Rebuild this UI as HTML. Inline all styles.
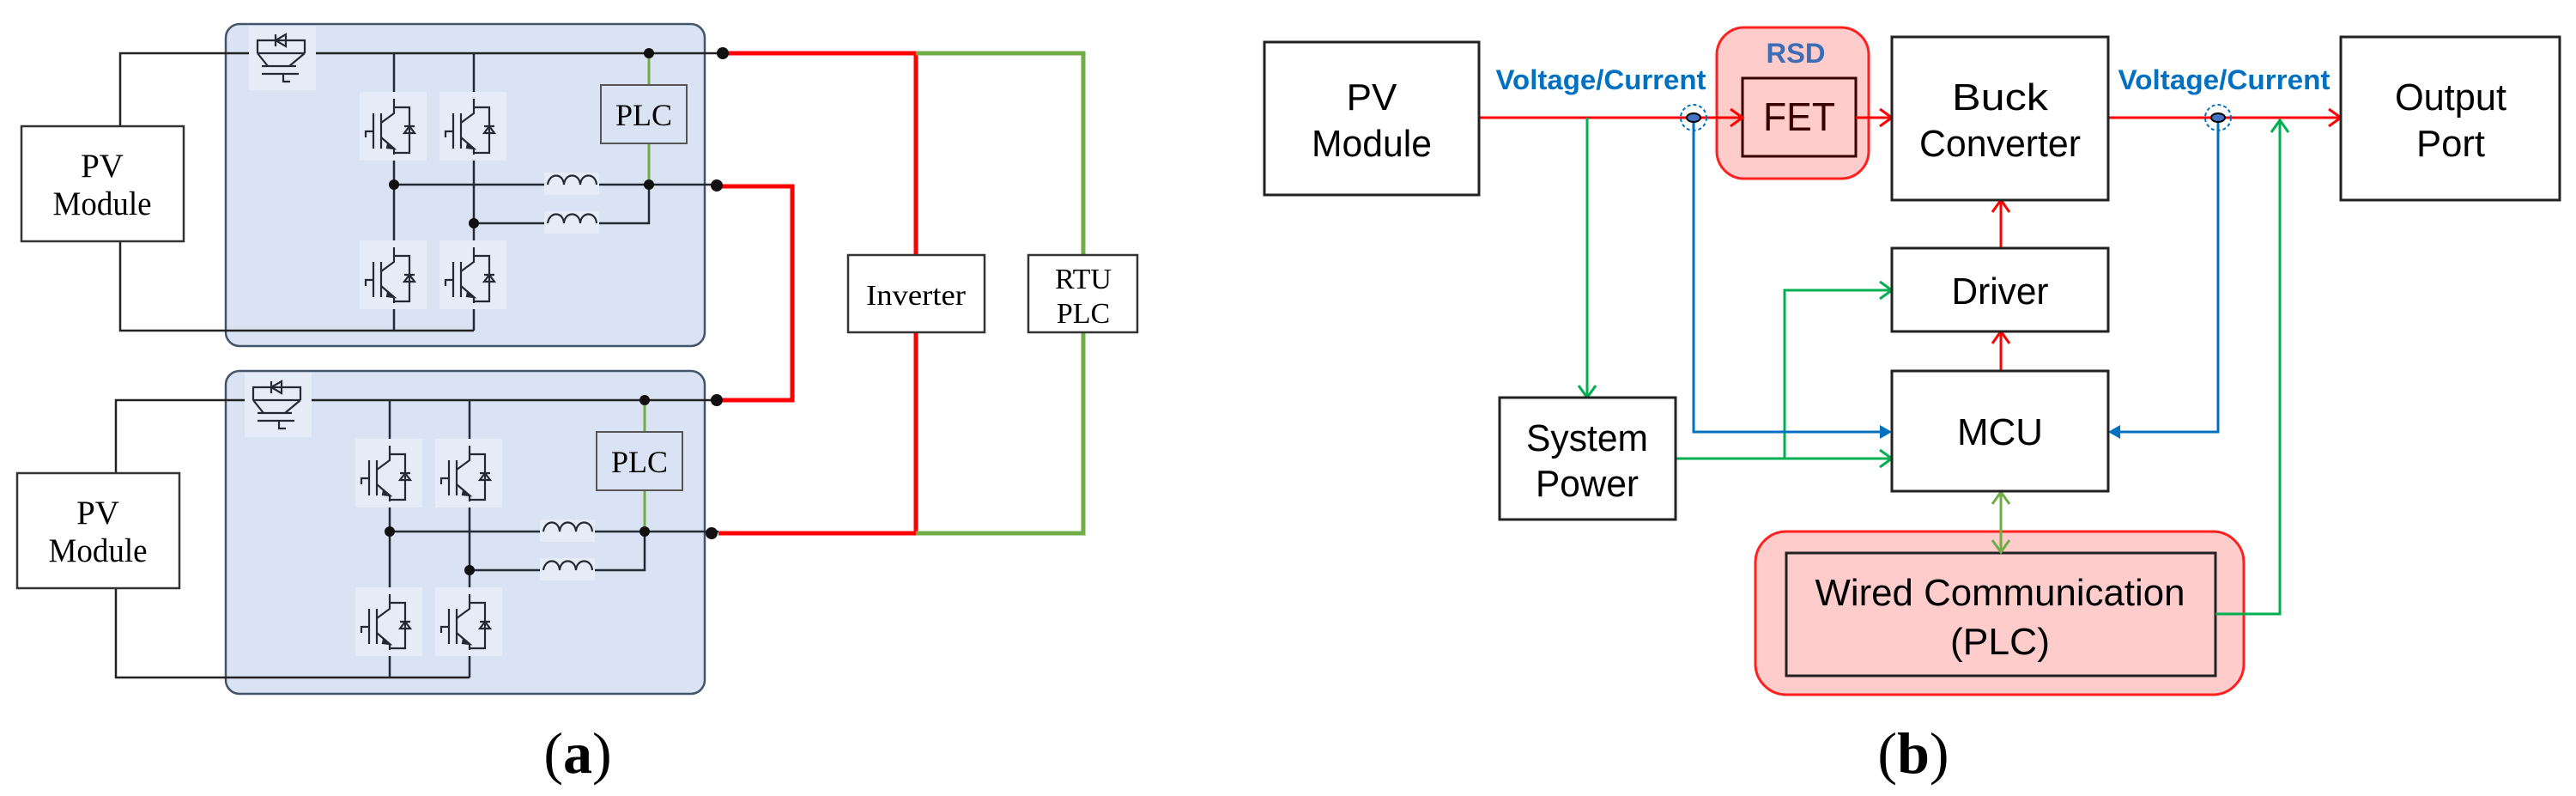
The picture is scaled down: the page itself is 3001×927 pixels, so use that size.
<!DOCTYPE html>
<html><head><meta charset="utf-8"><style>
html,body{margin:0;padding:0;background:#fff;}
svg{display:block;}
.serif{font-family:"Liberation Serif",serif;}
.sans{font-family:"Liberation Sans",sans-serif;}
</style></head><body>
<svg width="3001" height="927" viewBox="0 0 3001 927" xmlns="http://www.w3.org/2000/svg">
<defs>
<g id="sw" fill="none" stroke="#222a35" stroke-width="2.2">
  <rect x="-40" y="-8" width="78" height="80" fill="#e6ecf7" stroke="none"/>
  <path d="M0,0 V17 L-15,28"/>
  <path d="M-15,17 V58 M-24,17 V58 M-24,38 H-33 V45"/>
  <path d="M-15,45 L0,58 V65"/>
  <path d="M0,10 H18 V63 H0"/>
  <path d="M12,40 H24 L18,32 Z M12,32 H24"/>
  <path d="M-7,52 L0,58 L-8,57 Z" fill="#222a35"/>
</g>
<g id="ind" fill="none" stroke="#222a35" stroke-width="2.2">
  <rect x="-4" y="-14" width="64" height="26" fill="#e6ecf7" stroke="none"/>
  <path d="M0,0 C2,-14 18,-14 19,0 C20,-14 37,-14 38,0 C39,-14 56,-14 57,0"/>
</g>
<g id="inv">
  <g fill="none" stroke="#222" stroke-width="2.5">
    <!-- left pv wiring -->
    <path d="M140,147 V62 H300 V47 H355 V62 H842"/>
    <path d="M140,281 V385 H552"/>
    <rect x="25" y="147" width="189" height="134" fill="#fff" stroke="#333"/>
  </g>
  <rect x="290" y="30" width="78" height="75" fill="#e6ecf7"/>
  <g fill="none" stroke="#222a35" stroke-width="2.2">
    <path d="M300,47 V47 M300,62 V47 H355 V62"/>
    <path d="M321,40 V54 M333,40 V54 L321,47 Z"/>
    <path d="M300,62 L312,77 M305,77 H345 M305,86 H348 M330,86 V95 H338 M337,77 L355,62"/>
    <path d="M300,62 H355"/>
  </g>
  <!-- columns -->
  <g fill="none" stroke="#222a35" stroke-width="2.5">
    <path d="M459,62 V132 M459,173 V305 M459,346 V385"/>
    <path d="M552,62 V132 M552,173 V305 M552,346 V385"/>
    <path d="M459,215 H638 M695,215 H842"/>
    <path d="M552,260 H638 M695,260 H756 V215"/>
  </g>
  <use href="#sw" x="459" y="115"/>
  <use href="#sw" x="552" y="115"/>
  <use href="#sw" x="459" y="288"/>
  <use href="#sw" x="552" y="288"/>
  <use href="#ind" x="638" y="215"/>
  <use href="#ind" x="638" y="260"/>
  <path d="M756,62 V99 M756,167 V215" stroke="#70ad47" stroke-width="3"/>
  <rect x="700" y="99" width="100" height="68" fill="#dae3f3" stroke="#555" stroke-width="2"/>
  <text x="750" y="146" text-anchor="middle" class="serif" font-size="36">PLC</text>
  <g fill="#111">
    <circle cx="756" cy="62" r="6"/><circle cx="756" cy="215" r="6"/>
    <circle cx="459" cy="215" r="6"/><circle cx="552" cy="260" r="6"/>
  </g>
  <text x="119" y="206" text-anchor="middle" class="serif" font-size="39">PV</text>
  <text x="119" y="250" text-anchor="middle" class="serif" font-size="39" textLength="115" lengthAdjust="spacingAndGlyphs">Module</text>
</g>
</defs>

<!-- ===== Panel (a) ===== -->
<rect x="263" y="28" width="558" height="375" rx="16" fill="#dae3f3" stroke="#44546a" stroke-width="2.5"/>
<rect x="263" y="432" width="558" height="376" rx="16" fill="#dae3f3" stroke="#44546a" stroke-width="2.5"/>
<use href="#inv"/>
<use href="#inv" x="-5" y="404"/>

<g fill="none" stroke-width="5">
  <path d="M842,62 H1067 V297 M1067,387 V621 H837" stroke="#ff0000"/>
  <path d="M835,217 H923 V466 H837" stroke="#ff0000"/>
  <path d="M1067,62 H1262 V297 M1262,387 V621 H1067" stroke="#70ad47"/>
</g>
<g fill="#111">
  <circle cx="842" cy="62" r="7"/><circle cx="835" cy="216" r="7"/>
  <circle cx="835" cy="466" r="7"/><circle cx="829" cy="621" r="7"/>
</g>
<rect x="988" y="297" width="159" height="90" fill="#fff" stroke="#333" stroke-width="2.5"/>
<text x="1067" y="355" text-anchor="middle" class="serif" font-size="34" textLength="116" lengthAdjust="spacingAndGlyphs">Inverter</text>
<rect x="1198" y="297" width="127" height="90" fill="#fff" stroke="#333" stroke-width="2.5"/>
<text x="1262" y="336" text-anchor="middle" class="serif" font-size="34">RTU</text>
<text x="1262" y="376" text-anchor="middle" class="serif" font-size="34">PLC</text>
<text x="673" y="900" text-anchor="middle" class="serif" font-size="68">(<tspan font-weight="bold">a</tspan>)</text>

<!-- ===== Panel (b) ===== -->
<rect x="2000" y="32" width="177" height="176" rx="32" fill="#ffcccc" stroke="#ff2020" stroke-width="3"/>
<rect x="2045" y="619" width="569" height="190" rx="36" fill="#ffcccc" stroke="#ff2020" stroke-width="3"/>
<rect x="2081" y="644" width="500" height="143" fill="#ffcccc" stroke="#222" stroke-width="3"/>
<rect x="2030" y="91" width="132" height="91" fill="#ffcccc" stroke="#3a0000" stroke-width="3"/>

<g fill="none" stroke-width="3">
  <!-- red -->
  <g stroke="#ff0000">
    <path d="M1723,137 H2030 M2016,127 L2030,137 L2016,147"/>
    <path d="M2162,137 H2204 M2190,127 L2204,137 L2190,147"/>
    <path d="M2456,137 H2727 M2713,127 L2727,137 L2713,147"/>
    <path d="M2331,432 V386 M2321,400 L2331,386 L2341,400"/>
    <path d="M2331,289 V233 M2321,247 L2331,233 L2341,247"/>
  </g>
  <!-- green -->
  <g stroke="#00b050">
    <path d="M1849,137 V463 M1839,449 L1849,463 L1859,449"/>
    <path d="M1952,534 H2204 M2190,524 L2204,534 L2190,544"/>
    <path d="M2079,534 V338 H2204 M2190,328 L2204,338 L2190,348"/>
    <path d="M2581,715 H2656 V140 M2646,154 L2656,140 L2666,154"/>
  </g>
  <!-- olive double -->
  <path d="M2331,573 V643 M2321,587 L2331,573 L2341,587 M2321,629 L2331,643 L2341,629" stroke="#70ad47"/>
  <!-- blue -->
  <g stroke="#0070c0">
    <path d="M1973,137 V503 H2192"/>
    <path d="M2584,137 V503 H2468"/>
  </g>
</g>
<path d="M2190,495 L2204,503 L2190,511 Z" fill="#0070c0"/>
<path d="M2470,495 L2456,503 L2470,511 Z" fill="#0070c0"/>
<!-- sensors -->
<g>
  <circle cx="1973" cy="137" r="15" fill="none" stroke="#0070c0" stroke-width="2" stroke-dasharray="4,3"/>
  <ellipse cx="1973" cy="137" rx="8" ry="5" fill="#4472c4" stroke="#000" stroke-width="2"/>
  <circle cx="2584" cy="137" r="15" fill="none" stroke="#0070c0" stroke-width="2" stroke-dasharray="4,3"/>
  <ellipse cx="2584" cy="137" rx="8" ry="5" fill="#4472c4" stroke="#000" stroke-width="2"/>
</g>

<g fill="#fff" stroke="#222" stroke-width="3">
  <rect x="1473" y="49" width="250" height="178"/>
  <rect x="2204" y="43" width="252" height="190"/>
  <rect x="2727" y="43" width="255" height="190"/>
  <rect x="2204" y="289" width="252" height="97"/>
  <rect x="2204" y="432" width="252" height="140"/>
  <rect x="1747" y="463" width="205" height="142"/>
</g>

<g class="sans" fill="#000" text-anchor="middle" font-size="44">
  <text x="1598" y="128">PV</text>
  <text x="1598" y="182" textLength="140" lengthAdjust="spacingAndGlyphs">Module</text>
  <text x="2330" y="128" textLength="112" lengthAdjust="spacingAndGlyphs">Buck</text>
  <text x="2330" y="182" textLength="188" lengthAdjust="spacingAndGlyphs">Converter</text>
  <text x="2855" y="128" textLength="130" lengthAdjust="spacingAndGlyphs">Output</text>
  <text x="2855" y="182" textLength="80" lengthAdjust="spacingAndGlyphs">Port</text>
  <text x="2330" y="354" textLength="113" lengthAdjust="spacingAndGlyphs">Driver</text>
  <text x="2330" y="518" textLength="100" lengthAdjust="spacingAndGlyphs">MCU</text>
  <text x="1849" y="525" textLength="142" lengthAdjust="spacingAndGlyphs">System</text>
  <text x="1849" y="578" textLength="120" lengthAdjust="spacingAndGlyphs">Power</text>
  <text x="2330" y="705" textLength="431" lengthAdjust="spacingAndGlyphs">Wired Communication</text>
  <text x="2330" y="762" textLength="116" lengthAdjust="spacingAndGlyphs">(PLC)</text>
  <text x="2096" y="152" fill="#3a0000" font-size="46" textLength="84" lengthAdjust="spacingAndGlyphs">FET</text>
</g>
<g class="sans" font-weight="bold" text-anchor="middle" font-size="32">
  <text x="2092" y="73" fill="#3d6db5" textLength="69" lengthAdjust="spacingAndGlyphs">RSD</text>
  <text x="1865" y="104" fill="#0070c0" textLength="245" lengthAdjust="spacingAndGlyphs">Voltage/Current</text>
  <text x="2591" y="104" fill="#0070c0" textLength="247" lengthAdjust="spacingAndGlyphs">Voltage/Current</text>
</g>
<text x="2229" y="900" text-anchor="middle" class="serif" font-size="68">(<tspan font-weight="bold">b</tspan>)</text>
</svg>
</body></html>
